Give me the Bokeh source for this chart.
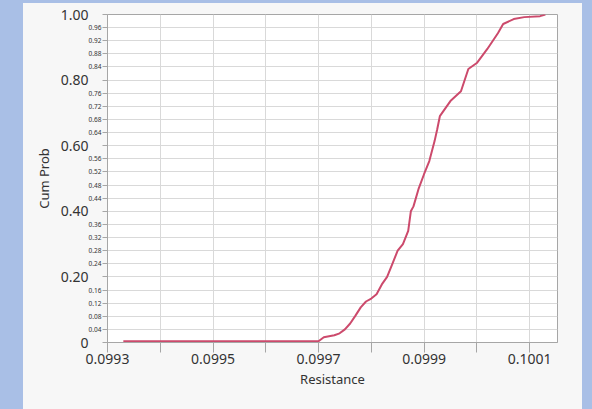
from bokeh.plotting import figure
from bokeh.layouts import row, column
from bokeh.models import (FixedTicker, LinearAxis, Spacer,
                          GlobalInlineStyleSheet, Range1d)
from bokeh.embed import file_html
from bokeh.resources import INLINE

# ---- data ----
resistance = [0.09933, 0.09970, 0.09971, 0.09973, 0.09974, 0.09975, 0.09976,
              0.09977, 0.09978, 0.09979, 0.09980, 0.09981, 0.09982, 0.09983,
              0.09984, 0.09985, 0.09986, 0.09987, 0.099875, 0.09988, 0.09989,
              0.09990, 0.09991, 0.09992, 0.099925, 0.09993, 0.09995, 0.09997,
              0.099984, 0.10000, 0.10002, 0.10004, 0.10005, 0.10007, 0.10009,
              0.10012, 0.10013]
cum_prob = [0.004, 0.004, 0.016, 0.022, 0.028, 0.040, 0.058,
            0.082, 0.107, 0.125, 0.134, 0.147, 0.177, 0.200,
            0.240, 0.280, 0.300, 0.340, 0.400, 0.415, 0.470,
            0.513, 0.553, 0.614, 0.650, 0.690, 0.736, 0.766,
            0.834, 0.852, 0.895, 0.943, 0.971, 0.986, 0.992,
            0.995, 1.000]

x_major_ticks = [0.0993, 0.0995, 0.0997, 0.0999, 0.1001]
x_major_labels = ["0.0993", "0.0995", "0.0997", "0.0999", "0.1001"]
x_minor_ticks = [0.0994, 0.0996, 0.0998, 0.1000]

y_major_ticks = [0, 0.2, 0.4, 0.6, 0.8, 1.0]
y_major_labels = ["0", "0.20", "0.40", "0.60", "0.80", "1.00"]
y_minor_ticks = [0.04, 0.08, 0.12, 0.16, 0.24, 0.28, 0.32, 0.36, 0.44, 0.48,
                 0.52, 0.56, 0.64, 0.68, 0.72, 0.76, 0.84, 0.88, 0.92, 0.96]
y_minor_labels = ["0.04", "0.08", "0.12", "0.16", "0.24", "0.28", "0.32", "0.36",
                  "0.44", "0.48", "0.52", "0.56", "0.64", "0.68", "0.72", "0.76",
                  "0.84", "0.88", "0.92", "0.96"]

BLUE = "#a9bfe6"
PANEL = "#f7f7f7"
GRID = "#d9d9d9"
FRAME = "#a6a6a6"
TXT = "#333333"
FONT = "Noto Sans"

p = figure(width=559, height=406, output_backend="svg", toolbar_location=None,
           x_range=Range1d(0.0993, 0.100153), y_range=Range1d(0, 1.0),
           min_border_left=84, min_border_right=25, min_border_top=11,
           min_border_bottom=67, background_fill_color="white",
           border_fill_color=PANEL, outline_line_color=FRAME)

p.stylesheets = [GlobalInlineStyleSheet(css=(
    "html { background: linear-gradient(to bottom, %s 3px, transparent 3px),"
    " linear-gradient(to right, %s 23px, %s 23px, %s 582px, %s 582px); }"
    " body { background: transparent; }" % (BLUE, BLUE, PANEL, PANEL, BLUE)))]

p.line(resistance, cum_prob, line_color="#cc4a6c", line_width=2)

# x axis
p.xaxis.ticker = FixedTicker(ticks=x_major_ticks, minor_ticks=x_minor_ticks)
p.xaxis.major_label_overrides = dict(zip(x_major_ticks, x_major_labels))
p.xaxis.axis_label = "Resistance"
p.xaxis.axis_line_color = FRAME
p.xaxis.major_tick_line_color = FRAME
p.xaxis.minor_tick_line_color = FRAME
p.xaxis.major_tick_in = 0
p.xaxis.minor_tick_in = 0
p.xaxis.major_tick_out = 10
p.xaxis.minor_tick_out = 10
p.xaxis.major_label_standoff = 1
p.xaxis.axis_label_standoff = 3
p.xaxis.major_label_text_font = FONT
p.xaxis.major_label_text_font_size = "14px"
p.xaxis.major_label_text_color = TXT
p.xaxis.axis_label_text_font = FONT
p.xaxis.axis_label_text_font_size = "13px"
p.xaxis.axis_label_text_font_style = "normal"
p.xaxis.axis_label_text_color = TXT

# inner y axis: every 0.04 tick, small labels for the in-between values
all_y_ticks = sorted(y_major_ticks + y_minor_ticks)
inner_overrides = dict(zip(y_minor_ticks, y_minor_labels))
inner_overrides.update({t: "" for t in y_major_ticks})
yin = p.yaxis[0]
yin.ticker = FixedTicker(ticks=all_y_ticks, minor_ticks=[])
yin.major_label_overrides = inner_overrides
yin.axis_line_color = FRAME
yin.major_tick_line_color = FRAME
yin.major_tick_in = 0
yin.major_tick_out = 5
yin.minor_tick_line_color = None
yin.major_label_standoff = 1
yin.major_label_text_font = FONT
yin.major_label_text_font_size = "6.5px"
yin.major_label_text_color = TXT

# outer y axis: the large labels at every 0.2
yout = LinearAxis(ticker=FixedTicker(ticks=y_major_ticks, minor_ticks=[]),
                  major_label_overrides=dict(zip(y_major_ticks, y_major_labels)),
                  axis_label="Cum Prob")
yout.axis_line_color = None
yout.major_tick_line_color = None
yout.major_tick_in = 0
yout.major_tick_out = 0
yout.minor_tick_line_color = None
yout.major_label_standoff = -3
yout.major_label_text_font = FONT
yout.major_label_text_font_size = "14px"
yout.major_label_text_color = TXT
yout.axis_label_standoff = 5
yout.axis_label_text_font = FONT
yout.axis_label_text_font_size = "13px"
yout.axis_label_text_font_style = "normal"
yout.axis_label_text_color = TXT
p.add_layout(yout, "left")

p.xgrid.grid_line_color = GRID
p.xgrid.minor_grid_line_color = GRID
p.ygrid.grid_line_color = GRID

layout = column(Spacer(width=582, height=3),
                row(Spacer(width=23, height=406), p))
open("out.html", "w").write(file_html(layout, INLINE))
